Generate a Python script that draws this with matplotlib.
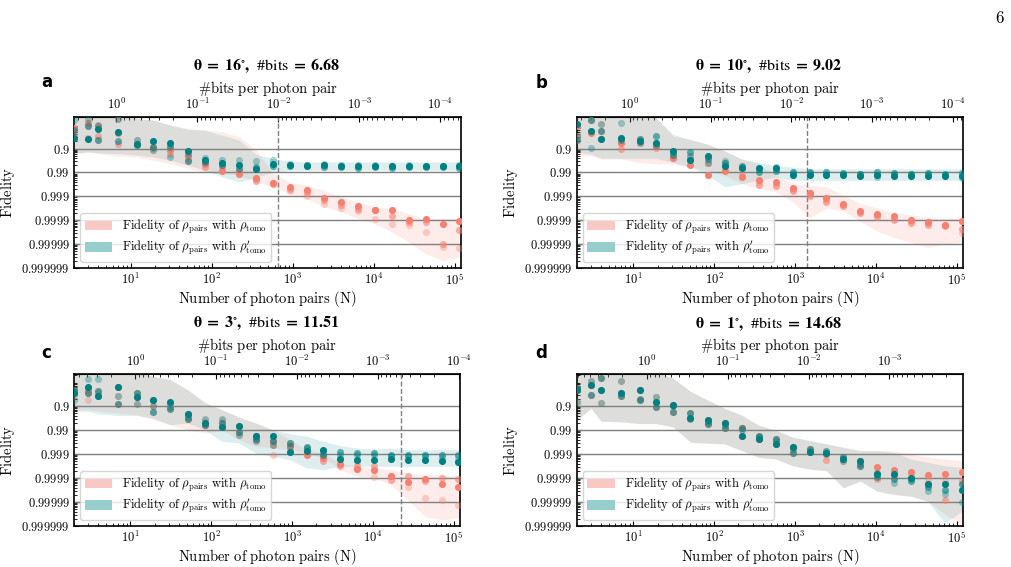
import numpy as np
import matplotlib.pyplot as plt
from matplotlib.patches import Patch

# computer modern look for all text
plt.rcParams['mathtext.fontset'] = 'cm'
plt.rcParams['font.family'] = 'serif'
plt.rcParams['font.serif'] = ['cmr10', 'DejaVu Serif']
plt.rcParams['axes.formatter.use_mathtext'] = True

# number of photon pairs (x)
N = [2, 3, 4, 7, 12, 19, 31, 51, 83, 135, 220, 356, 577, 934, 1511, 2445,
     3956, 6401, 10357, 16758, 27115, 43873, 70988, 114861]

# values are "nines" of fidelity: -log10(1 - F)
# panel a
a_teal = [[0.54, 0.62, 0.20, 0.30, 0.79, 0.69, 0.76, 1.11, 1.49, 1.60, 1.70, 1.84, 1.66, 1.70, 1.73, 1.70, 1.72, 1.71, 1.72, 1.73, 1.72, 1.71, 1.72, 1.73],
          [0.23, 0.06, 0.65, 0.68, 0.86, 0.93, 0.93, 1.53, 1.56, 1.70, 1.84, 1.77, 1.74, 1.74, 1.67, 1.77, 1.77, 1.80, 1.77, 1.80, 1.77, 1.77, 1.77, 1.80],
          [-0.19, -0.23, 0.02, -0.23, 0.65, 1.07, 1.35, 1.21, 1.38, 1.46, 1.46, 1.53, 1.46, 1.63, 1.70, 1.66, 1.70, 1.70, 1.70, 1.71, 1.70, 1.71, 1.71, 1.70]]
a_red = [[0.16, -0.05, 0.06, 0.34, 0.79, 0.96, 1.07, 1.32, 1.63, 1.94, 2.05, 2.22, 2.44, 2.61, 2.75, 3.09, 3.23, 3.42, 3.56, 3.58, 4.00, 3.93, 4.14, 4.03],
         [0.37, 0.54, 0.48, 0.79, 0.86, 0.93, 1.21, 1.42, 1.77, 1.80, 1.98, 2.35, 2.49, 2.69, 2.86, 3.16, 3.37, 3.51, 3.58, 3.84, 4.07, 4.07, 4.98, 4.39],
         [0.54, 0.06, 0.65, -0.23, 0.65, 1.07, 0.93, 1.53, 1.56, 1.70, 1.84, 2.30, 2.44, 2.77, 3.00, 3.30, 3.49, 3.61, 3.93, 4.17, 4.21, 4.49, 5.12, 5.16]]
a_teal_hi = [-0.40, -0.40, -0.40, -0.40, -0.26, -0.19, 0.02, 0.20, 0.23, 0.44, 0.65, 1.25, 1.42, 1.53, 1.56, 1.56, 1.56, 1.56, 1.56, 1.56, 1.56, 1.56, 1.56, 1.56]
a_teal_lo = [1.21, 1.14, 1.18, 1.21, 1.28, 1.35, 1.49, 1.70, 1.91, 2.19, 2.40, 2.19, 1.98, 1.91, 1.91, 1.91, 1.91, 1.91, 1.91, 1.91, 1.91, 1.91, 1.91, 1.91]
a_red_hi = [-0.40, -0.40, -0.40, -0.40, -0.26, -0.19, 0.02, 0.15, 0.23, 0.30, 0.51, 1.07, 2.05, 2.40, 2.54, 2.75, 3.03, 3.23, 3.44, 3.51, 3.72, 3.93, 3.93, 3.93]
a_red_lo = [1.21, 1.14, 1.21, 1.32, 1.35, 1.49, 1.63, 1.84, 1.98, 2.05, 2.12, 2.40, 2.61, 2.89, 3.09, 3.44, 3.65, 3.93, 4.14, 4.49, 4.91, 5.40, 5.68, 5.54]

# panel b
b_teal = [[-0.04, 0.25, 0.62, 0.56, 0.68, 0.75, 1.11, 1.48, 1.30, 1.75, 1.82, 1.82, 1.82, 2.10, 2.10, 2.12, 2.12, 2.15, 2.12, 2.15, 2.15, 2.15, 2.15, 2.15],
          [0.64, -0.21, 0.25, 0.64, 0.59, 0.48, 1.27, 1.16, 1.44, 1.60, 1.71, 1.96, 1.92, 1.99, 1.96, 1.99, 2.01, 2.05, 1.99, 2.01, 2.05, 2.01, 2.05, 2.01],
          [0.48, 0.96, -0.04, -0.07, 0.75, 0.89, 1.16, 1.30, 1.60, 1.52, 1.78, 1.85, 1.78, 2.03, 2.03, 2.05, 2.05, 2.08, 2.19, 2.08, 2.08, 2.08, 2.10, 2.23]]
b_red = [[0.07, 0.34, 0.62, 0.75, 0.68, 0.89, 1.41, 1.68, 2.10, 1.92, 2.19, 2.30, 2.40, 2.67, 2.88, 3.08, 3.33, 3.60, 3.74, 3.84, 3.97, 4.07, 4.18, 4.04],
         [0.48, -0.21, 0.25, 1.00, 0.75, 0.96, 1.27, 1.48, 1.60, 1.75, 2.12, 2.51, 2.58, 2.78, 2.97, 3.22, 3.42, 3.70, 3.88, 3.97, 4.11, 4.18, 4.25, 4.38],
         [0.64, 0.25, -0.04, 0.56, 0.59, 0.75, 1.11, 1.30, 1.44, 1.60, 1.82, 2.40, 2.47, 2.72, 2.92, 3.15, 3.38, 3.65, 3.80, 3.90, 4.04, 4.11, 4.21, 4.52]]
b_teal_hi = [-0.30, -0.30, -0.30, -0.30, -0.30, -0.30, 0.41, 0.62, 0.82, 1.10, 1.44, 1.58, 1.71, 1.78, 1.85, 1.85, 1.85, 1.85, 1.85, 1.85, 1.85, 1.85, 1.85, 1.85]
b_teal_lo = [1.16, 1.23, 1.41, 1.41, 1.41, 1.41, 1.58, 1.78, 2.12, 2.60, 2.47, 2.33, 2.19, 2.33, 2.33, 2.33, 2.33, 2.33, 2.33, 2.33, 2.33, 2.33, 2.33, 2.33]
b_red_hi = [-0.30, -0.30, -0.30, -0.30, -0.30, -0.30, 0.48, 0.62, 0.82, 1.10, 1.44, 1.64, 2.12, 2.47, 2.53, 2.60, 2.95, 3.29, 3.49, 3.70, 3.77, 3.90, 3.90, 3.90]
b_red_lo = [1.30, 1.30, 1.44, 1.44, 1.58, 1.64, 1.64, 1.78, 1.92, 2.12, 2.47, 2.67, 2.81, 3.22, 3.90, 3.49, 3.63, 4.04, 4.45, 4.73, 4.93, 5.14, 5.00, 4.93]

# panel c
c_teal = [[0.46, 0.21, 0.57, 0.21, 0.63, 0.76, 0.82, 1.33, 1.71, 1.89, 1.85, 2.24, 2.26, 2.93, 2.89, 2.82, 3.21, 3.24, 3.24, 3.21, 3.26, 3.26, 3.31, 3.35],
          [0.32, 0.46, 0.39, 0.90, 0.46, 1.25, 1.13, 1.54, 1.78, 1.71, 2.10, 2.38, 2.44, 2.54, 2.71, 3.03, 2.93, 2.96, 2.96, 3.06, 3.06, 3.06, 3.06, 3.06],
          [0.76, -0.14, -0.14, 0.60, 0.90, 1.01, 1.06, 1.45, 1.53, 1.53, 2.19, 2.47, 2.61, 2.65, 2.75, 2.96, 3.03, 3.06, 3.06, 3.10, 3.10, 3.10, 3.15, 3.20]]
c_red = [[0.46, 0.32, 0.57, 0.21, 0.63, 0.76, 0.90, 1.33, 1.78, 1.89, 1.85, 2.24, 2.44, 2.65, 3.03, 3.17, 3.42, 3.63, 3.68, 3.93, 4.18, 4.04, 4.24, 4.39],
         [0.32, 0.46, 0.46, 0.90, 0.46, 1.01, 1.06, 1.54, 1.71, 1.71, 2.10, 2.38, 2.61, 2.75, 2.89, 3.31, 3.51, 3.51, 3.49, 4.07, 3.90, 4.14, 4.00, 4.04],
         [0.60, 0.74, 0.39, 0.60, 0.90, 1.25, 1.13, 1.45, 1.60, 1.60, 2.19, 2.47, 3.03, 2.54, 2.75, 3.03, 3.26, 3.35, 3.96, 3.90, 4.38, 4.83, 4.90, 5.11]]
c_teal_hi = [-0.40, -0.40, -0.40, -0.40, -0.40, -0.24, -0.10, 0.32, 0.85, 1.15, 1.46, 1.71, 1.99, 2.15, 2.26, 2.47, 2.65, 2.75, 2.79, 2.75, 2.82, 2.82, 2.82, 2.82]
c_teal_lo = [1.22, 1.22, 1.32, 1.40, 1.40, 1.50, 1.78, 1.71, 1.99, 2.47, 2.54, 2.96, 3.10, 3.24, 3.58, 3.65, 3.51, 3.51, 3.51, 3.51, 3.51, 3.51, 3.51, 3.51]
c_red_hi = [-0.40, -0.40, -0.40, -0.40, -0.40, -0.24, -0.10, 0.32, 0.85, 1.15, 1.46, 1.71, 1.99, 2.40, 2.82, 2.96, 3.38, 3.51, 3.58, 3.65, 3.79, 3.86, 3.86, 3.93]
c_red_lo = [1.15, 1.15, 1.22, 1.29, 1.36, 1.57, 1.78, 1.99, 2.12, 2.01, 2.40, 2.68, 2.75, 2.82, 2.96, 3.17, 3.65, 3.93, 4.00, 4.28, 4.90, 5.60, 5.74, 5.67]

# panel d
d_teal = [[0.32, 0.11, 0.32, 0.46, 0.32, 0.82, 0.94, 1.52, 1.59, 1.70, 2.27, 2.37, 2.58, 2.69, 2.93, 2.96, 3.21, 3.31, 3.85, 3.85, 3.99, 4.27, 4.24, 4.48],
          [0.25, 0.54, -0.17, 0.58, 0.77, 1.06, 1.24, 1.31, 1.73, 1.90, 1.90, 2.23, 2.37, 2.97, 2.79, 2.86, 3.11, 3.49, 3.94, 4.06, 4.13, 4.38, 4.48, 4.27],
          [0.82, -0.03, 0.86, -0.03, 0.70, 0.63, 1.00, 1.56, 1.66, 1.80, 2.00, 2.30, 2.44, 2.80, 2.86, 3.00, 3.31, 3.40, 3.80, 4.20, 4.06, 4.55, 4.66, 5.00]]
d_red = [[0.32, 0.11, 0.32, 0.46, 0.32, 0.82, 0.94, 1.52, 1.59, 1.70, 1.90, 2.37, 2.58, 2.69, 2.93, 2.96, 3.21, 3.31, 3.56, 3.68, 3.75, 3.89, 3.82, 3.77],
         [0.25, 0.54, -0.17, 0.58, 0.77, 1.06, 1.24, 1.31, 1.73, 1.90, 2.27, 2.23, 2.37, 2.97, 2.79, 3.25, 3.11, 3.49, 4.06, 3.82, 3.99, 4.27, 4.92, 4.13],
         [0.82, -0.03, 0.86, -0.03, 0.70, 0.63, 1.00, 1.56, 1.66, 1.80, 2.00, 2.30, 2.44, 2.80, 2.86, 3.00, 3.31, 3.40, 3.80, 3.94, 3.89, 4.06, 4.13, 4.27]]
d_teal_hi = [-0.40, -0.40, -0.40, -0.40, -0.40, -0.40, -0.17, 0.39, 0.75, 1.10, 1.38, 1.80, 2.01, 2.30, 2.44, 2.58, 2.72, 2.86, 2.86, 2.93, 3.21, 3.35, 3.49, 3.56]
d_teal_lo = [1.59, 1.10, 1.63, 1.66, 1.73, 1.73, 1.87, 2.51, 2.55, 2.58, 2.86, 3.14, 3.21, 3.49, 3.63, 3.70, 4.41, 4.13, 4.55, 4.69, 4.76, 4.97, 5.89, 5.39]
d_red_hi = [-0.40, -0.40, -0.40, -0.40, -0.40, -0.40, -0.17, 0.39, 0.75, 1.10, 1.38, 1.80, 2.01, 2.30, 2.44, 2.58, 2.72, 2.86, 2.86, 2.86, 3.00, 3.14, 3.21, 3.28]
d_red_lo = [1.59, 1.10, 1.63, 1.66, 1.73, 1.73, 1.87, 2.51, 2.55, 2.58, 2.86, 3.14, 3.21, 3.49, 3.63, 3.70, 4.41, 4.13, 4.55, 4.69, 4.76, 4.97, 5.50, 5.96]

letters = ['a', 'b', 'c', 'd']
angles = [16, 10, 3, 1]
bits = [6.68, 9.02, 11.51, 14.68]
dashed_N = [668, 1400, 22600, None]
teal_runs = [a_teal, b_teal, c_teal, d_teal]
red_runs = [a_red, b_red, c_red, d_red]
teal_bands = [(a_teal_hi, a_teal_lo), (b_teal_hi, b_teal_lo), (c_teal_hi, c_teal_lo), (d_teal_hi, d_teal_lo)]
red_bands = [(a_red_hi, a_red_lo), (b_red_hi, b_red_lo), (c_red_hi, c_red_lo), (d_red_hi, d_red_lo)]

fid_ticks = [1e-1, 1e-2, 1e-3, 1e-4, 1e-5, 1e-6]
fid_labels = ['$0.9$', '$0.99$', '$0.999$', '$0.9999$', '$0.99999$', '$0.999999$']
bit_ticks = [1, 1e-1, 1e-2, 1e-3, 1e-4]

red = '#f57f70'
teal = '#008080'
alphas = [1.0, 0.6, 0.35]
x_lo, x_hi = 2, 120000

fig = plt.figure(figsize=(10.11, 5.67), dpi=100)
boxes = [(0.0732, 0.5273, 0.3828, 0.2663), (0.5704, 0.5273, 0.3824, 0.2663),
         (0.0732, 0.0723, 0.3818, 0.2675), (0.5704, 0.0723, 0.3824, 0.2675)]
title_pos = [(0.264, 0.884), (0.760, 0.884), (0.264, 0.430), (0.760, 0.430)]
letter_pos = [(0.046, 0.855), (0.536, 0.854), (0.046, 0.377), (0.535, 0.377)]


def inf(v):
    return 10.0 ** (-np.array(v))


def per_pair(x, b):
    x = np.asarray(x, dtype=float)
    with np.errstate(divide='ignore'):
        return b / x


for i in range(4):
    ax = fig.add_axes(boxes[i])
    ax.set_xscale('log')
    ax.set_yscale('log')

    # shaded spreads
    ax.fill_between(N, inf(red_bands[i][0]), inf(red_bands[i][1]), color='salmon', alpha=0.15, lw=0, zorder=1)
    ax.fill_between(N, inf(teal_bands[i][0]), inf(teal_bands[i][1]), color=teal, alpha=0.13, lw=0, zorder=1)

    for y in fid_ticks[:-1]:
        ax.axhline(y, color='gray', lw=1.0, zorder=2)

    if dashed_N[i] is not None:
        ax.axvline(dashed_N[i], color='gray', ls='--', lw=1.0, zorder=2)

    for run, al in zip(red_runs[i], alphas):
        ax.scatter(N, inf(run), s=26, color=red, alpha=al, lw=0, zorder=3)
    for run, al in zip(teal_runs[i], alphas):
        ax.scatter(N, inf(run), s=26, color=teal, alpha=al, lw=0, zorder=4)

    ax.set_xlim(x_lo, x_hi)
    ax.set_ylim(1e-6, 10 ** 0.32)
    ax.set_yticks(fid_ticks)
    ax.set_yticklabels(fid_labels)
    ax.tick_params(which='both', direction='in', labelsize=9)
    ax.tick_params(which='major', pad=3)
    for sp in ax.spines.values():
        sp.set_linewidth(1.2)

    ax.set_xlabel(r'$\mathrm{Number\ of\ photon\ pairs\ (N)}$', fontsize=10.5, labelpad=1)
    ax.set_ylabel(r'$\mathrm{Fidelity}$', fontsize=10.5, labelpad=3)

    b = bits[i]
    sec = ax.secondary_xaxis('top', functions=(lambda x, b=b: per_pair(x, b),
                                               lambda x, b=b: per_pair(x, b)))
    sec.set_xticks([t for t in bit_ticks if b / x_hi < t < b / x_lo])
    sec.tick_params(which='both', direction='in', labelsize=9)
    sec.set_xlabel(r'$\#\mathrm{bits\ per\ photon\ pair}$', fontsize=10.5, labelpad=3)

    leg = ax.legend(handles=[Patch(facecolor='#fac8c4', edgecolor='none'),
                             Patch(facecolor='#96cdcd', edgecolor='none')],
                    labels=[r'$\mathrm{Fidelity\ of\ }\rho_{\mathrm{pairs}}\mathrm{\ with\ }\rho_{\mathrm{tomo}}$',
                            r'$\mathrm{Fidelity\ of\ }\rho_{\mathrm{pairs}}\mathrm{\ with\ }\rho_{\mathrm{tomo}}^{\prime}$'],
                    loc='lower left', fontsize=9, handlelength=2.2, handleheight=0.8,
                    labelspacing=0.25, borderpad=0.35, framealpha=0.8,
                    edgecolor='#cccccc', fancybox=True)
    leg.set_zorder(5)

    # bold title, stix has a proper heavy bold
    title = (r'$\mathbf{\theta}\;\mathbf{=}\;\mathbf{%d}^{\circ}\mathbf{,}\ \ \#\mathrm{bits}\;\mathbf{=}\;\mathbf{%.2f}$'
             % (angles[i], bits[i]))
    fig.text(title_pos[i][0], title_pos[i][1], title, ha='center', va='center', fontsize=11.5,
             math_fontfamily='stix')
    fig.text(letter_pos[i][0], letter_pos[i][1], letters[i], family='DejaVu Sans',
             fontweight='bold', fontsize=12, ha='center', va='center')

fig.text(0.989, 0.968, '6', fontsize=12, ha='center', va='center')

fig.savefig('out.png', dpi=100)
